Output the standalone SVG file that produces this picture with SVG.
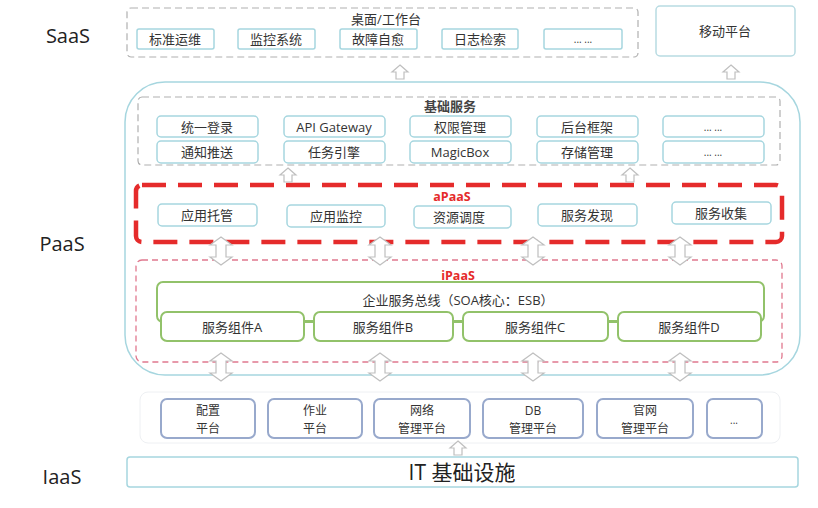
<svg xmlns="http://www.w3.org/2000/svg" xmlns:xlink="http://www.w3.org/1999/xlink" width="818" height="508" viewBox="0 0 818 508">
<style>
text{font-family:"Open Sans","Noto Sans CJK SC",sans-serif;fill:#333;text-anchor:middle;dominant-baseline:central}
.t{font-size:13px}
.t2{font-size:12px}
.lay{font-size:20px;fill:#222}
.box{fill:#fff;stroke:#a6d6df;stroke-width:1.5}
.gd{fill:none;stroke:#b0b0b0;stroke-width:1.2;stroke-dasharray:7 4}
.gr{fill:#fff;stroke:#92c26a;stroke-width:2}
.ia{fill:#fff;stroke:#98a9cc;stroke-width:2}
.arr{fill:#fff;stroke:#bfbfbf;stroke-width:1.2}
.red{font-weight:bold;fill:#e52b2b;font-size:12.5px}
</style>
<defs>
<path id="up" class="arr" d="M0,0 L8,7 L4,7 L4,14 L-4,14 L-4,7 L-8,7 Z"/>
<path id="dbl" class="arr" d="M0,0 L11,8 L5,8 L5,20 L11,20 L0,28 L-11,20 L-5,20 L-5,8 L-11,8 Z"/>
</defs>
<rect width="818" height="508" fill="#fff"/>
<g id="layers">
<text class="lay" x="68" y="35">SaaS</text>
<text class="lay" x="62" y="243">PaaS</text>
<text class="lay" x="62" y="476">IaaS</text>
</g>
<g id="saas">
<rect class="gd" x="127" y="8" width="511" height="49" rx="4"/>
<text class="t" x="386" y="19">桌面/工作台</text>
<rect class="box" x="137" y="29" width="77" height="20" rx="2"/><text class="t" x="175" y="39">标准运维</text>
<rect class="box" x="238" y="29" width="77" height="20" rx="2"/><text class="t" x="276" y="39">监控系统</text>
<rect class="box" x="340" y="29" width="77" height="20" rx="2"/><text class="t" x="378" y="39">故障自愈</text>
<rect class="box" x="442" y="29" width="76" height="20" rx="2"/><text class="t" x="480" y="39">日志检索</text>
<rect class="box" x="544" y="29" width="78" height="20" rx="2"/><text class="t" x="583" y="39" style="font-size:10px">... ...</text>
</g>
<g id="mobile">
<rect class="box" x="656" y="6" width="139" height="50" rx="4" style="stroke:#b8dbe2"/>
<text class="t" x="725" y="31">移动平台</text>
</g>
<g id="paas">
<rect x="125" y="82" width="675" height="293" rx="40" fill="#fff" stroke="#a6d6df" stroke-width="1.5"/>
</g>
<g id="basic">
<rect class="gd" x="138" y="97" width="642" height="68" rx="4"/>
<text class="t" x="450" y="106" style="font-weight:bold;fill:#444">基础服务</text>
<rect class="box" x="157" y="116" width="101" height="21" rx="4"/><text class="t" x="207" y="127">统一登录</text>
<rect class="box" x="284" y="116" width="101" height="21" rx="4"/><text class="t" x="334" y="127">API Gateway</text>
<rect class="box" x="410" y="116" width="101" height="21" rx="4"/><text class="t" x="460" y="127">权限管理</text>
<rect class="box" x="537" y="116" width="101" height="21" rx="4"/><text class="t" x="587" y="127">后台框架</text>
<rect class="box" x="663" y="116" width="101" height="21" rx="4"/><text class="t" x="713" y="127" style="font-size:10px">... ...</text>
<rect class="box" x="157" y="141" width="101" height="22" rx="4"/><text class="t" x="207" y="152">通知推送</text>
<rect class="box" x="284" y="141" width="101" height="22" rx="4"/><text class="t" x="334" y="152">任务引擎</text>
<rect class="box" x="410" y="141" width="101" height="22" rx="4"/><text class="t" x="460" y="152">MagicBox</text>
<rect class="box" x="537" y="141" width="101" height="22" rx="4"/><text class="t" x="587" y="152">存储管理</text>
<rect class="box" x="663" y="141" width="101" height="22" rx="4"/><text class="t" x="713" y="152" style="font-size:10px">... ...</text>
</g>
<g id="apaas">
<rect x="136" y="185" width="646" height="57" rx="6" fill="none" stroke="#e52b2b" stroke-width="4.5" stroke-dasharray="24 12"/>
<text class="red" x="452" y="196">aPaaS</text>
<rect class="box" x="158" y="204" width="99" height="22" rx="4"/><text class="t" x="207" y="215">应用托管</text>
<rect class="box" x="287" y="205" width="98" height="22" rx="4"/><text class="t" x="336" y="216">应用监控</text>
<rect class="box" x="414" y="206" width="97" height="22" rx="4"/><text class="t" x="459" y="217">资源调度</text>
<rect class="box" x="538" y="204" width="99" height="22" rx="4"/><text class="t" x="587" y="215">服务发现</text>
<rect class="box" x="672" y="202" width="99" height="22" rx="4"/><text class="t" x="721" y="213">服务收集</text>
</g>
<g id="ipaas">
<rect x="136" y="260" width="646" height="102" rx="6" fill="none" stroke="#e0788e" stroke-width="1.3" stroke-dasharray="6 4"/>
<text class="red" x="458" y="275">iPaaS</text>
<rect class="gr" x="157" y="282" width="607" height="40" rx="6"/>
<text class="t" x="458" y="300">企业服务总线（SOA核心：ESB）</text>
<line x1="304" y1="321" x2="314" y2="321" stroke="#92c26a" stroke-width="2"/>
<line x1="453" y1="321" x2="463" y2="321" stroke="#92c26a" stroke-width="2"/>
<line x1="608" y1="321" x2="618" y2="321" stroke="#92c26a" stroke-width="2"/>
<rect class="gr" x="161" y="312" width="143" height="29" rx="6"/><text class="t" x="232" y="327">服务组件A</text>
<rect class="gr" x="314" y="312" width="139" height="29" rx="6"/><text class="t" x="383" y="327">服务组件B</text>
<rect class="gr" x="463" y="312" width="145" height="29" rx="6"/><text class="t" x="535" y="327">服务组件C</text>
<rect class="gr" x="618" y="312" width="143" height="29" rx="6"/><text class="t" x="689" y="327">服务组件D</text>
</g>
<g id="iaas-platforms">
<rect x="140" y="392" width="640" height="51" rx="8" fill="#fff" stroke="#eef0f3" stroke-width="1"/>
<rect class="ia" x="161" y="399" width="94" height="39" rx="6"/><text class="t2" x="208" y="410">配置</text><text class="t2" x="208" y="428">平台</text>
<rect class="ia" x="268" y="399" width="94" height="39" rx="6"/><text class="t2" x="315" y="410">作业</text><text class="t2" x="315" y="428">平台</text>
<rect class="ia" x="374" y="399" width="96" height="39" rx="6"/><text class="t2" x="422" y="410">网络</text><text class="t2" x="422" y="428">管理平台</text>
<rect class="ia" x="483" y="399" width="100" height="39" rx="6"/><text class="t2" x="533" y="410">DB</text><text class="t2" x="533" y="428">管理平台</text>
<rect class="ia" x="597" y="399" width="96" height="39" rx="6"/><text class="t2" x="645" y="410">官网</text><text class="t2" x="645" y="428">管理平台</text>
<rect class="ia" x="707" y="399" width="55" height="39" rx="6"/><text class="t" x="734" y="420" style="font-size:10px">...</text>
</g>
<g id="it">
<rect class="box" x="127" y="457" width="671" height="30" rx="3"/>
<text x="462" y="472" style="font-size:21px;fill:#222">IT 基础设施</text>
</g>
<g id="connectors">
<use xlink:href="#up" x="400" y="65"/>
<use xlink:href="#up" x="731" y="65"/>
<use xlink:href="#up" x="288" y="168"/>
<use xlink:href="#up" x="630" y="168"/>
<use xlink:href="#dbl" x="221" y="237"/>
<use xlink:href="#dbl" x="380" y="237"/>
<use xlink:href="#dbl" x="533" y="237"/>
<use xlink:href="#dbl" x="680" y="237"/>
<use xlink:href="#dbl" x="221" y="353"/>
<use xlink:href="#dbl" x="380" y="353"/>
<use xlink:href="#dbl" x="533" y="353"/>
<use xlink:href="#dbl" x="680" y="353"/>
<use xlink:href="#up" x="458" y="441"/>
</g>
</svg>
